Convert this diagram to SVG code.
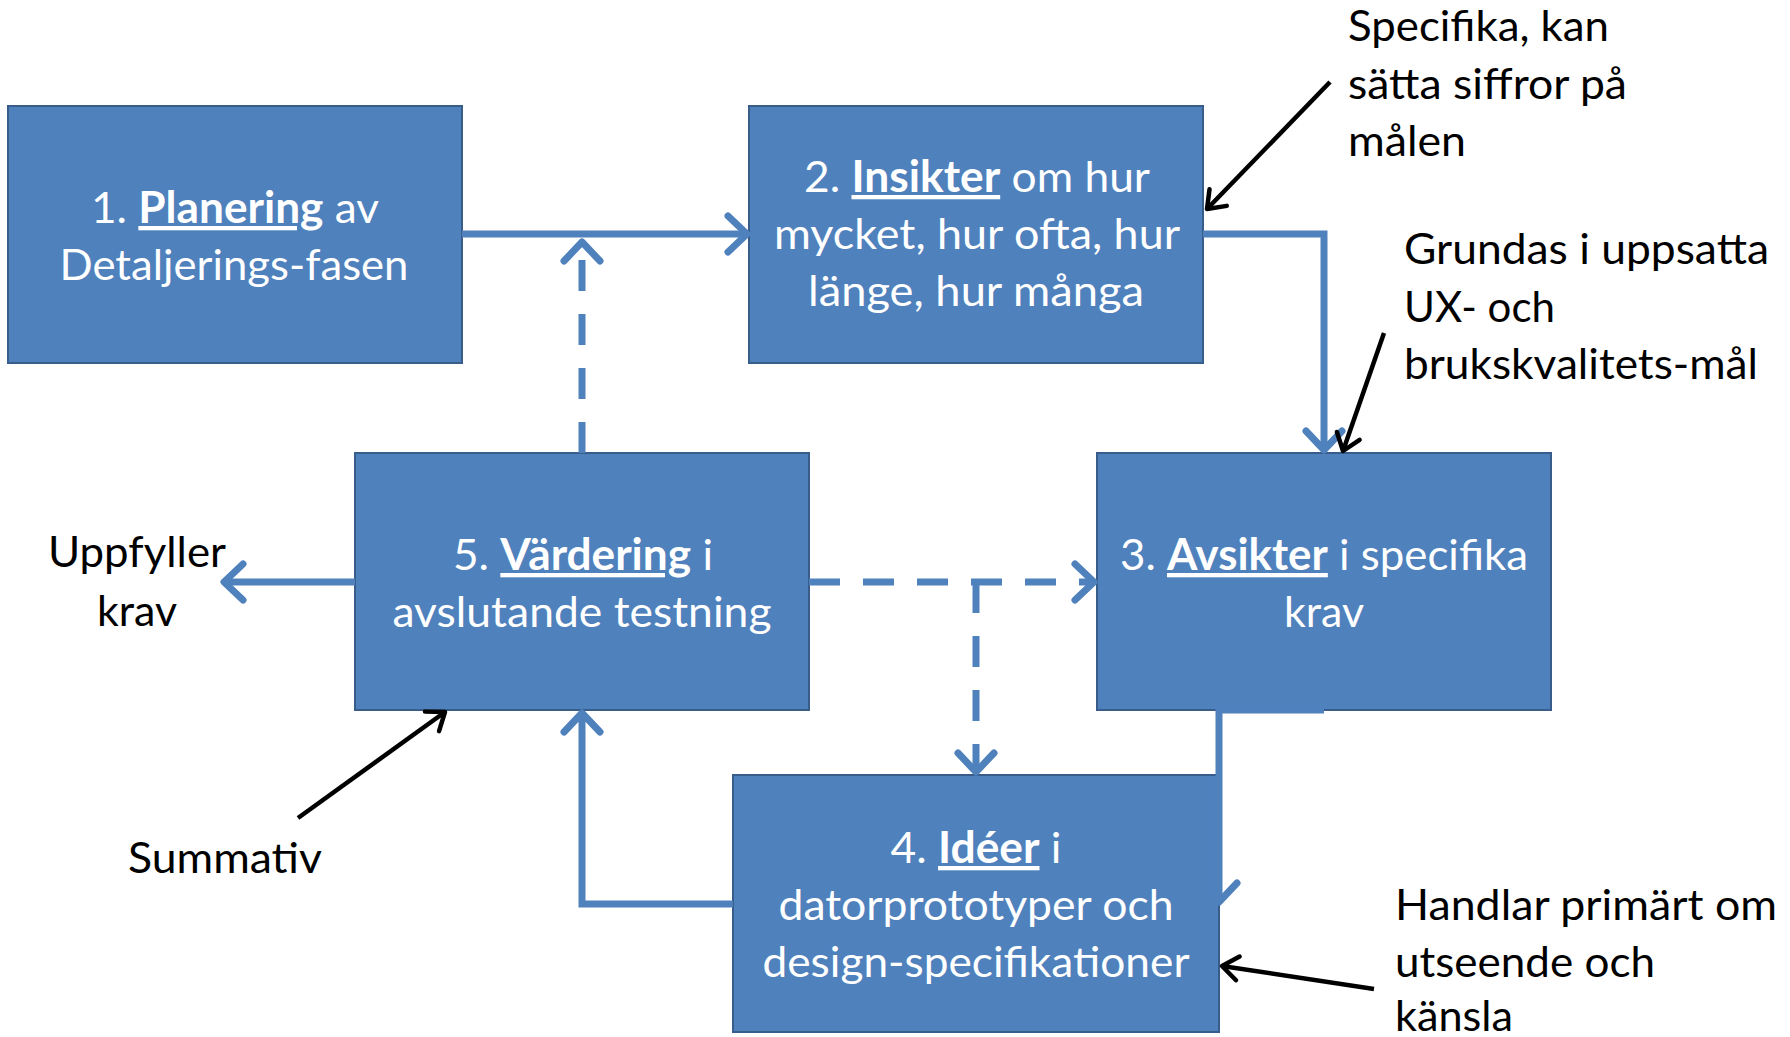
<svg xmlns="http://www.w3.org/2000/svg" width="1790" height="1037" viewBox="0 0 1790 1037">
  <style>
    .box { fill: #4F81BD; stroke: #385D8A; stroke-width: 2; }
    .lbl { font-family: Lato, "Open Sans", "Liberation Sans", sans-serif; font-size: 43px; fill: #FFFFFF; text-anchor: middle; }
    .lbl .key { font-weight: bold; text-decoration: underline; }
    .note { font-family: Lato, "Open Sans", "Liberation Sans", sans-serif; font-size: 43px; fill: #000000; }
    .flow { fill: none; stroke: #4F81BD; stroke-width: 7; stroke-linejoin: miter; }
    .dash { stroke-dasharray: 31 23; }
    .pointer { fill: none; stroke: #000000; stroke-width: 4.5; }
  </style>
  <defs>
    <marker id="head-blue" viewBox="-30 -25 36 50" refX="0" refY="0" markerWidth="36" markerHeight="50" markerUnits="userSpaceOnUse" orient="auto" overflow="visible">
      <path d="M-19,-18 L0,0 L-19,18" fill="none" stroke="#4F81BD" stroke-width="7" stroke-linecap="round" stroke-linejoin="round"/>
    </marker>
    <marker id="head-black" viewBox="-24 -20 30 40" refX="0" refY="0" markerWidth="30" markerHeight="40" markerUnits="userSpaceOnUse" orient="auto" overflow="visible">
      <path d="M-16,-12 L0,0 L-16,12" fill="none" stroke="#000000" stroke-width="4.5" stroke-linecap="round" stroke-linejoin="round"/>
    </marker>
  </defs>

  <rect width="1790" height="1037" fill="#FFFFFF"/>

  <!-- process steps -->
  <g id="step1">
    <rect class="box" x="8" y="106" width="454" height="257"/>
    <text class="lbl" x="235" y="223" textLength="288" lengthAdjust="spacingAndGlyphs">1. <tspan class="key">Planering</tspan> av</text>
    <text class="lbl" x="234" y="280" textLength="349" lengthAdjust="spacingAndGlyphs">Detaljerings-fasen</text>
  </g>
  <g id="step2">
    <rect class="box" x="749" y="106" width="454" height="257"/>
    <text class="lbl" x="977" y="192" textLength="346" lengthAdjust="spacingAndGlyphs">2. <tspan class="key">Insikter</tspan> om hur</text>
    <text class="lbl" x="977" y="249" textLength="406" lengthAdjust="spacingAndGlyphs">mycket, hur ofta, hur</text>
    <text class="lbl" x="976" y="306" textLength="336" lengthAdjust="spacingAndGlyphs">länge, hur många</text>
  </g>
  <g id="step3">
    <rect class="box" x="1097" y="453" width="454" height="257"/>
    <text class="lbl" x="1324" y="570" textLength="408" lengthAdjust="spacingAndGlyphs">3. <tspan class="key">Avsikter</tspan> i specifika</text>
    <text class="lbl" x="1324" y="627" textLength="80" lengthAdjust="spacingAndGlyphs">krav</text>
  </g>
  <g id="step4">
    <rect class="box" x="733" y="775" width="486" height="257"/>
    <text class="lbl" x="976" y="863" textLength="171" lengthAdjust="spacingAndGlyphs">4. <tspan class="key">Idéer</tspan> i</text>
    <text class="lbl" x="976" y="920" textLength="395" lengthAdjust="spacingAndGlyphs">datorprototyper och</text>
    <text class="lbl" x="976" y="977" textLength="427" lengthAdjust="spacingAndGlyphs">design-specifikationer</text>
  </g>
  <g id="step5">
    <rect class="box" x="355" y="453" width="454" height="257"/>
    <text class="lbl" x="583" y="570" textLength="260" lengthAdjust="spacingAndGlyphs">5. <tspan class="key">Värdering</tspan> i</text>
    <text class="lbl" x="582" y="627" textLength="379" lengthAdjust="spacingAndGlyphs">avslutande testning</text>
  </g>

  <!-- side notes -->
  <g id="note-specifika">
    <text class="note" x="1348" y="41" textLength="261" lengthAdjust="spacingAndGlyphs">Specifika, kan</text>
    <text class="note" x="1348" y="99" textLength="279" lengthAdjust="spacingAndGlyphs">sätta siffror på</text>
    <text class="note" x="1348" y="156" textLength="118" lengthAdjust="spacingAndGlyphs">målen</text>
  </g>
  <g id="note-grundas">
    <text class="note" x="1404" y="264" textLength="365" lengthAdjust="spacingAndGlyphs">Grundas i uppsatta</text>
    <text class="note" x="1404" y="322" textLength="151" lengthAdjust="spacingAndGlyphs">UX- och</text>
    <text class="note" x="1404" y="379" textLength="354" lengthAdjust="spacingAndGlyphs">brukskvalitets-mål</text>
  </g>
  <g id="note-uppfyller">
    <text class="note" x="137" y="567" text-anchor="middle" textLength="178" lengthAdjust="spacingAndGlyphs">Uppfyller</text>
    <text class="note" x="137" y="626" text-anchor="middle" textLength="80" lengthAdjust="spacingAndGlyphs">krav</text>
  </g>
  <g id="note-summativ">
    <text class="note" x="128" y="873" textLength="194" lengthAdjust="spacingAndGlyphs">Summativ</text>
  </g>
  <g id="note-handlar">
    <text class="note" x="1395" y="920" textLength="382" lengthAdjust="spacingAndGlyphs">Handlar primärt om</text>
    <text class="note" x="1395" y="977" textLength="260" lengthAdjust="spacingAndGlyphs">utseende och</text>
    <text class="note" x="1395" y="1031" textLength="118" lengthAdjust="spacingAndGlyphs">känsla</text>
  </g>

  <!-- connectors -->
  <g id="connectors">
    <!-- 1 -> 2 -->
    <path class="flow" d="M462,234 L747,234" marker-end="url(#head-blue)"/>
    <!-- 5 -> back to the planning line (dashed) -->
    <path class="flow dash" d="M582,453 L582,242" marker-end="url(#head-blue)"/>
    <!-- 2 -> 3 -->
    <path class="flow" d="M1203,234 L1324,234 L1324,450" marker-end="url(#head-blue)"/>
    <!-- 3 -> 4 -->
    <path class="flow" d="M1324,710 L1219,710 L1219,902" marker-end="url(#head-blue)"/>
    <!-- 5 -> 3 (dashed) -->
    <path class="flow dash" d="M809,582 L1094,582" marker-end="url(#head-blue)"/>
    <!-- branch down to 4 (dashed) -->
    <path class="flow dash" d="M976,582 L976,772" marker-end="url(#head-blue)"/>
    <!-- 4 -> 5 -->
    <path class="flow" d="M733,904 L582,904 L582,713" marker-end="url(#head-blue)"/>
    <!-- 5 -> requirements met -->
    <path class="flow" d="M355,582 L224,582" marker-end="url(#head-blue)"/>

    <!-- note pointers -->
    <path class="pointer" d="M1330,82 L1207,209" marker-end="url(#head-black)"/>
    <path class="pointer" d="M1384,333 L1343,451" marker-end="url(#head-black)"/>
    <path class="pointer" d="M298,818 L445,712" marker-end="url(#head-black)"/>
    <path class="pointer" d="M1374,989 L1222,966" marker-end="url(#head-black)"/>
  </g>
</svg>
